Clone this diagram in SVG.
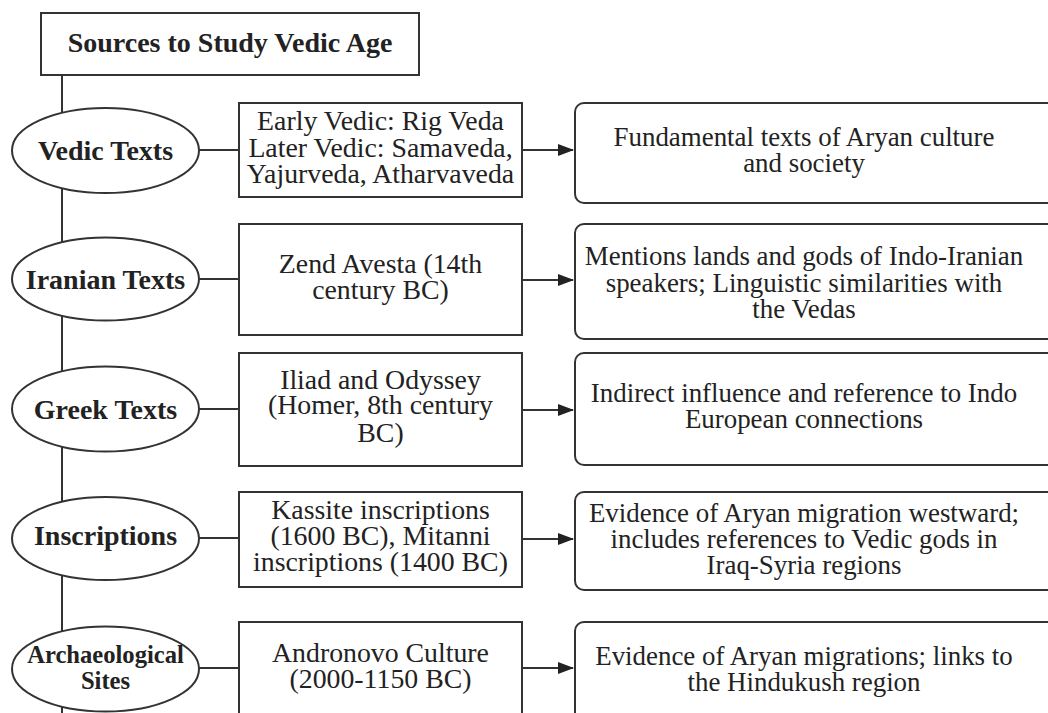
<svg xmlns="http://www.w3.org/2000/svg" width="1048" height="713" viewBox="0 0 1048 713">
<style>
.box{fill:#fff;stroke:#333;stroke-width:2}
.ell{fill:#fff;stroke:#333;stroke-width:2}
.ln{fill:none;stroke:#333;stroke-width:2}
.t{font-family:"Liberation Serif",serif;font-size:26.9px;fill:#222;text-anchor:middle}
.m{font-family:"Liberation Serif",serif;font-size:27.8px;fill:#222;text-anchor:middle}
.b{font-family:"Liberation Serif",serif;font-size:28px;font-weight:bold;fill:#222;text-anchor:middle}
.bs{font-family:"Liberation Serif",serif;font-size:24.6px;font-weight:bold;fill:#222;text-anchor:middle}
</style>
<defs>
<marker id="ah" markerWidth="16" markerHeight="14" refX="15" refY="7" orient="auto" markerUnits="userSpaceOnUse">
<path d="M0,1 L16,7 L0,13 Z" fill="#222"/>
</marker>
</defs>
<rect width="1048" height="713" fill="#fff"/>
<g id="connectors">
<line class="ln" x1="62" y1="75" x2="62" y2="713"/>
<line class="ln" x1="199" y1="150" x2="239" y2="150"/>
<line class="ln" x1="199" y1="279" x2="239" y2="279"/>
<line class="ln" x1="199" y1="409" x2="239" y2="409"/>
<line class="ln" x1="199" y1="538" x2="239" y2="538"/>
<line class="ln" x1="199" y1="668" x2="239" y2="668"/>
<line class="ln" x1="522" y1="150" x2="573" y2="150" marker-end="url(#ah)"/>
<line class="ln" x1="522" y1="280" x2="573" y2="280" marker-end="url(#ah)"/>
<line class="ln" x1="522" y1="410" x2="573" y2="410" marker-end="url(#ah)"/>
<line class="ln" x1="522" y1="539" x2="573" y2="539" marker-end="url(#ah)"/>
<line class="ln" x1="522" y1="668" x2="573" y2="668" marker-end="url(#ah)"/>
</g>
<g id="title">
<rect class="box" x="41" y="13" width="378" height="62"/>
<text class="b" x="230" y="52">Sources to Study Vedic Age</text>
</g>
<g id="vedic">
<ellipse class="ell" cx="105.5" cy="150.5" rx="93.5" ry="42.5"/>
<text class="b" x="105.5" y="160">Vedic Texts</text>
</g>
<g id="vedic-src">
<rect class="box" x="239" y="103" width="283" height="94"/>
<text class="m" x="380.5" y="130">Early Vedic: Rig Veda</text>
<text class="m" x="380.5" y="157">Later Vedic: Samaveda,</text>
<text class="m" x="380.5" y="183">Yajurveda, Atharvaveda</text>
</g>
<g id="vedic-note">
<rect class="box" x="575" y="103" width="490" height="100" rx="9"/>
<text class="t" x="804" y="146">Fundamental texts of Aryan culture</text>
<text class="t" x="804" y="172">and society</text>
</g>
<g id="iranian">
<ellipse class="ell" cx="105.5" cy="279" rx="93.5" ry="41.5"/>
<text class="b" x="105.5" y="288.5">Iranian Texts</text>
</g>
<g id="iranian-src">
<rect class="box" x="239" y="224" width="283" height="111"/>
<text class="m" x="380.5" y="273">Zend Avesta (14th</text>
<text class="m" x="380.5" y="298.5">century BC)</text>
</g>
<g id="iranian-note">
<rect class="box" x="575" y="224" width="490" height="115" rx="9"/>
<text class="t" x="804" y="265">Mentions lands and gods of Indo-Iranian</text>
<text class="t" x="804" y="291.5">speakers; Linguistic similarities with</text>
<text class="t" x="804" y="318">the Vedas</text>
</g>
<g id="greek">
<ellipse class="ell" cx="105.5" cy="409" rx="93.5" ry="42.5"/>
<text class="b" x="105.5" y="418.5">Greek Texts</text>
</g>
<g id="greek-src">
<rect class="box" x="239" y="353" width="283" height="113"/>
<text class="m" x="380.5" y="388.5">Iliad and Odyssey</text>
<text class="m" x="380.5" y="414">(Homer, 8th century</text>
<text class="m" x="380.5" y="441.5">BC)</text>
</g>
<g id="greek-note">
<rect class="box" x="575" y="353" width="490" height="112" rx="9"/>
<text class="t" x="804" y="401.5">Indirect influence and reference to Indo</text>
<text class="t" x="804" y="428">European connections</text>
</g>
<g id="inscriptions">
<ellipse class="ell" cx="105.5" cy="538.5" rx="93.5" ry="41.5"/>
<text class="b" x="105.5" y="545">Inscriptions</text>
</g>
<g id="inscriptions-src">
<rect class="box" x="239" y="492" width="283" height="95"/>
<text class="m" x="380.5" y="518.5">Kassite inscriptions</text>
<text class="m" x="380.5" y="545">(1600 BC), Mitanni</text>
<text class="m" x="380.5" y="571">inscriptions (1400 BC)</text>
</g>
<g id="inscriptions-note">
<rect class="box" x="575" y="492" width="490" height="98" rx="9"/>
<text class="t" x="804" y="521.5">Evidence of Aryan migration westward;</text>
<text class="t" x="804" y="548">includes references to Vedic gods in</text>
<text class="t" x="804" y="574">Iraq-Syria regions</text>
</g>
<g id="archaeological">
<ellipse class="ell" cx="105.5" cy="669" rx="93.5" ry="42.5"/>
<text class="bs" x="105.5" y="662.5">Archaeological</text>
<text class="bs" x="105.5" y="689">Sites</text>
</g>
<g id="archaeological-src">
<rect class="box" x="239" y="622" width="283" height="110"/>
<text class="m" x="380.5" y="661.5">Andronovo Culture</text>
<text class="m" x="380.5" y="688">(2000-1150 BC)</text>
</g>
<g id="archaeological-note">
<rect class="box" x="575" y="622" width="490" height="110" rx="9"/>
<text class="t" x="804" y="665">Evidence of Aryan migrations; links to</text>
<text class="t" x="804" y="690.5">the Hindukush region</text>
</g>
</svg>
